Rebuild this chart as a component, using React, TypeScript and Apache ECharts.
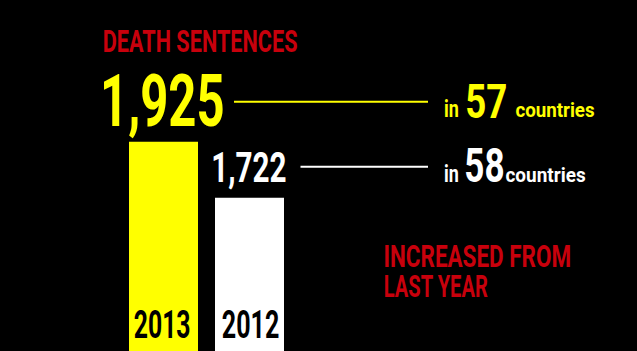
import React, { useEffect, useRef } from "react";
import * as echarts from "echarts";

// ---- data ----
const years = ["2013", "2012"];
const sentences = [1925, 1722];
const countries = [57, 58];
const headline = "DEATH SENTENCES";
const noteLines = ["INCREASED FROM", "LAST YEAR"];
const countryPrefix = "in";
const countrySuffix = "countries";

// ---- styles / layout ----
const W = 637;
const H = 351;
const FAMILY = "Roboto";
const CAP = 0.711; // Roboto cap / digit height (em)
const I_DOT = 0.745; // Roboto 'i' dot top (em)
const X_H = 0.528; // Roboto x-height (em)
const CENTRAL = 0.335; // central baseline above alphabetic baseline (em)
const RED = "#c8000c";
const YELLOW = "#ffff00";
const WHITE = "#ffffff";
const barColors = [YELLOW, WHITE];
const labelColors = [YELLOW, WHITE];
const labelInkW = [119, 72];
const labelInkH = [52, 30];
const labelGaps = [17, 16];
const lineStartGaps = [11, 15];
const lineYOffset = [23, 15];
const lineEndX = 428;
const inX = [445, 458];
const numX = [[467, 506], [466, 503]];
const sufX = [[516, 594], [506, 585]];

let measureCtx: CanvasRenderingContext2D | null = null;
function metrics(text: string) {
  if (!measureCtx) {
    const c = document.createElement("canvas");
    measureCtx = c.getContext("2d");
  }
  measureCtx!.font = `bold 100px ${FAMILY}`;
  return measureCtx!.measureText(text);
}

// place text so its ink spans [left,right]; font size from ink height / ratio; sits on baseline
function fitText(text: string, left: number, right: number, inkH: number, ratio: number, baseline: number, fill: string) {
  const size = inkH / ratio;
  const k = size / 100;
  const m = metrics(text);
  const abL = m.actualBoundingBoxLeft || 0;
  const abR = m.actualBoundingBoxRight || m.width;
  const sx = (right - left) / ((abL + abR) * k);
  return {
    type: "text",
    x: left + sx * abL * k,
    y: baseline - CENTRAL * size,
    scaleX: sx,
    z: 100,
    silent: true,
    style: {
      text,
      fill,
      font: `bold ${size.toFixed(2)}px ${FAMILY}`,
      align: "left",
      verticalAlign: "middle",
    },
  };
}

export default function App() {
  const ref = useRef<HTMLDivElement>(null);
  useEffect(() => {
    if (!ref.current) return;
    const chart = echarts.init(ref.current, undefined, { renderer: "svg" });
    chart.setOption({
      animation: false,
      backgroundColor: "#000000",
      grid: { left: 120.5, width: 172, top: 0, bottom: 0 },
      xAxis: { type: "category", data: years, show: false },
      yAxis: { type: "value", min: 1167, max: 2439, show: false, splitLine: { show: false } },
      series: [
        {
          type: "bar",
          barWidth: 69,
          data: sentences.map((v, i) => ({ value: v, itemStyle: { color: barColors[i] } })),
        },
      ],
    });

    const els: any[] = [];
    els.push(fitText(headline, 104, 297, 22, CAP, 52, RED));
    els.push(fitText(noteLines[0], 385, 570, 22, CAP, 267, RED));
    els.push(fitText(noteLines[1], 385, 488, 22, CAP, 297, RED));

    sentences.forEach((v, i) => {
      const [cx, top] = chart.convertToPixel({ gridIndex: 0 }, [i, v]) as number[];
      const baseline = top - labelGaps[i];
      const w = labelInkW[i];
      els.push(fitText(v.toLocaleString("en-US"), cx - w / 2, cx + w / 2, labelInkH[i], CAP, baseline, labelColors[i]));
      const lineY = baseline - lineYOffset[i];
      els.push({
        type: "line",
        silent: true,
        z: 100,
        shape: { x1: cx + w / 2 + lineStartGaps[i], y1: lineY, x2: lineEndX, y2: lineY },
        style: { stroke: labelColors[i], lineWidth: 2 },
      });
      const cb = lineY + 15;
      els.push(fitText(countryPrefix, inX[0], inX[1], 17.5, I_DOT, cb, labelColors[i]));
      els.push(fitText(String(countries[i]), numX[i][0], numX[i][1], 34, CAP, cb, labelColors[i]));
      els.push(fitText(countrySuffix, sufX[i][0], sufX[i][1], 10.7, X_H, cb, labelColors[i]));
      els.push(fitText(years[i], cx - 29 + i * 2, cx + 26 + i * 3, 28, CAP, 337, "#000000"));
    });

    chart.setOption({ graphic: { elements: els } });
    return () => chart.dispose();
  }, []);
  return (
    <div
      ref={ref}
      style={{ position: "fixed", left: 0, top: 0, width: W, height: H, background: "#000" }}
    />
  );
}
